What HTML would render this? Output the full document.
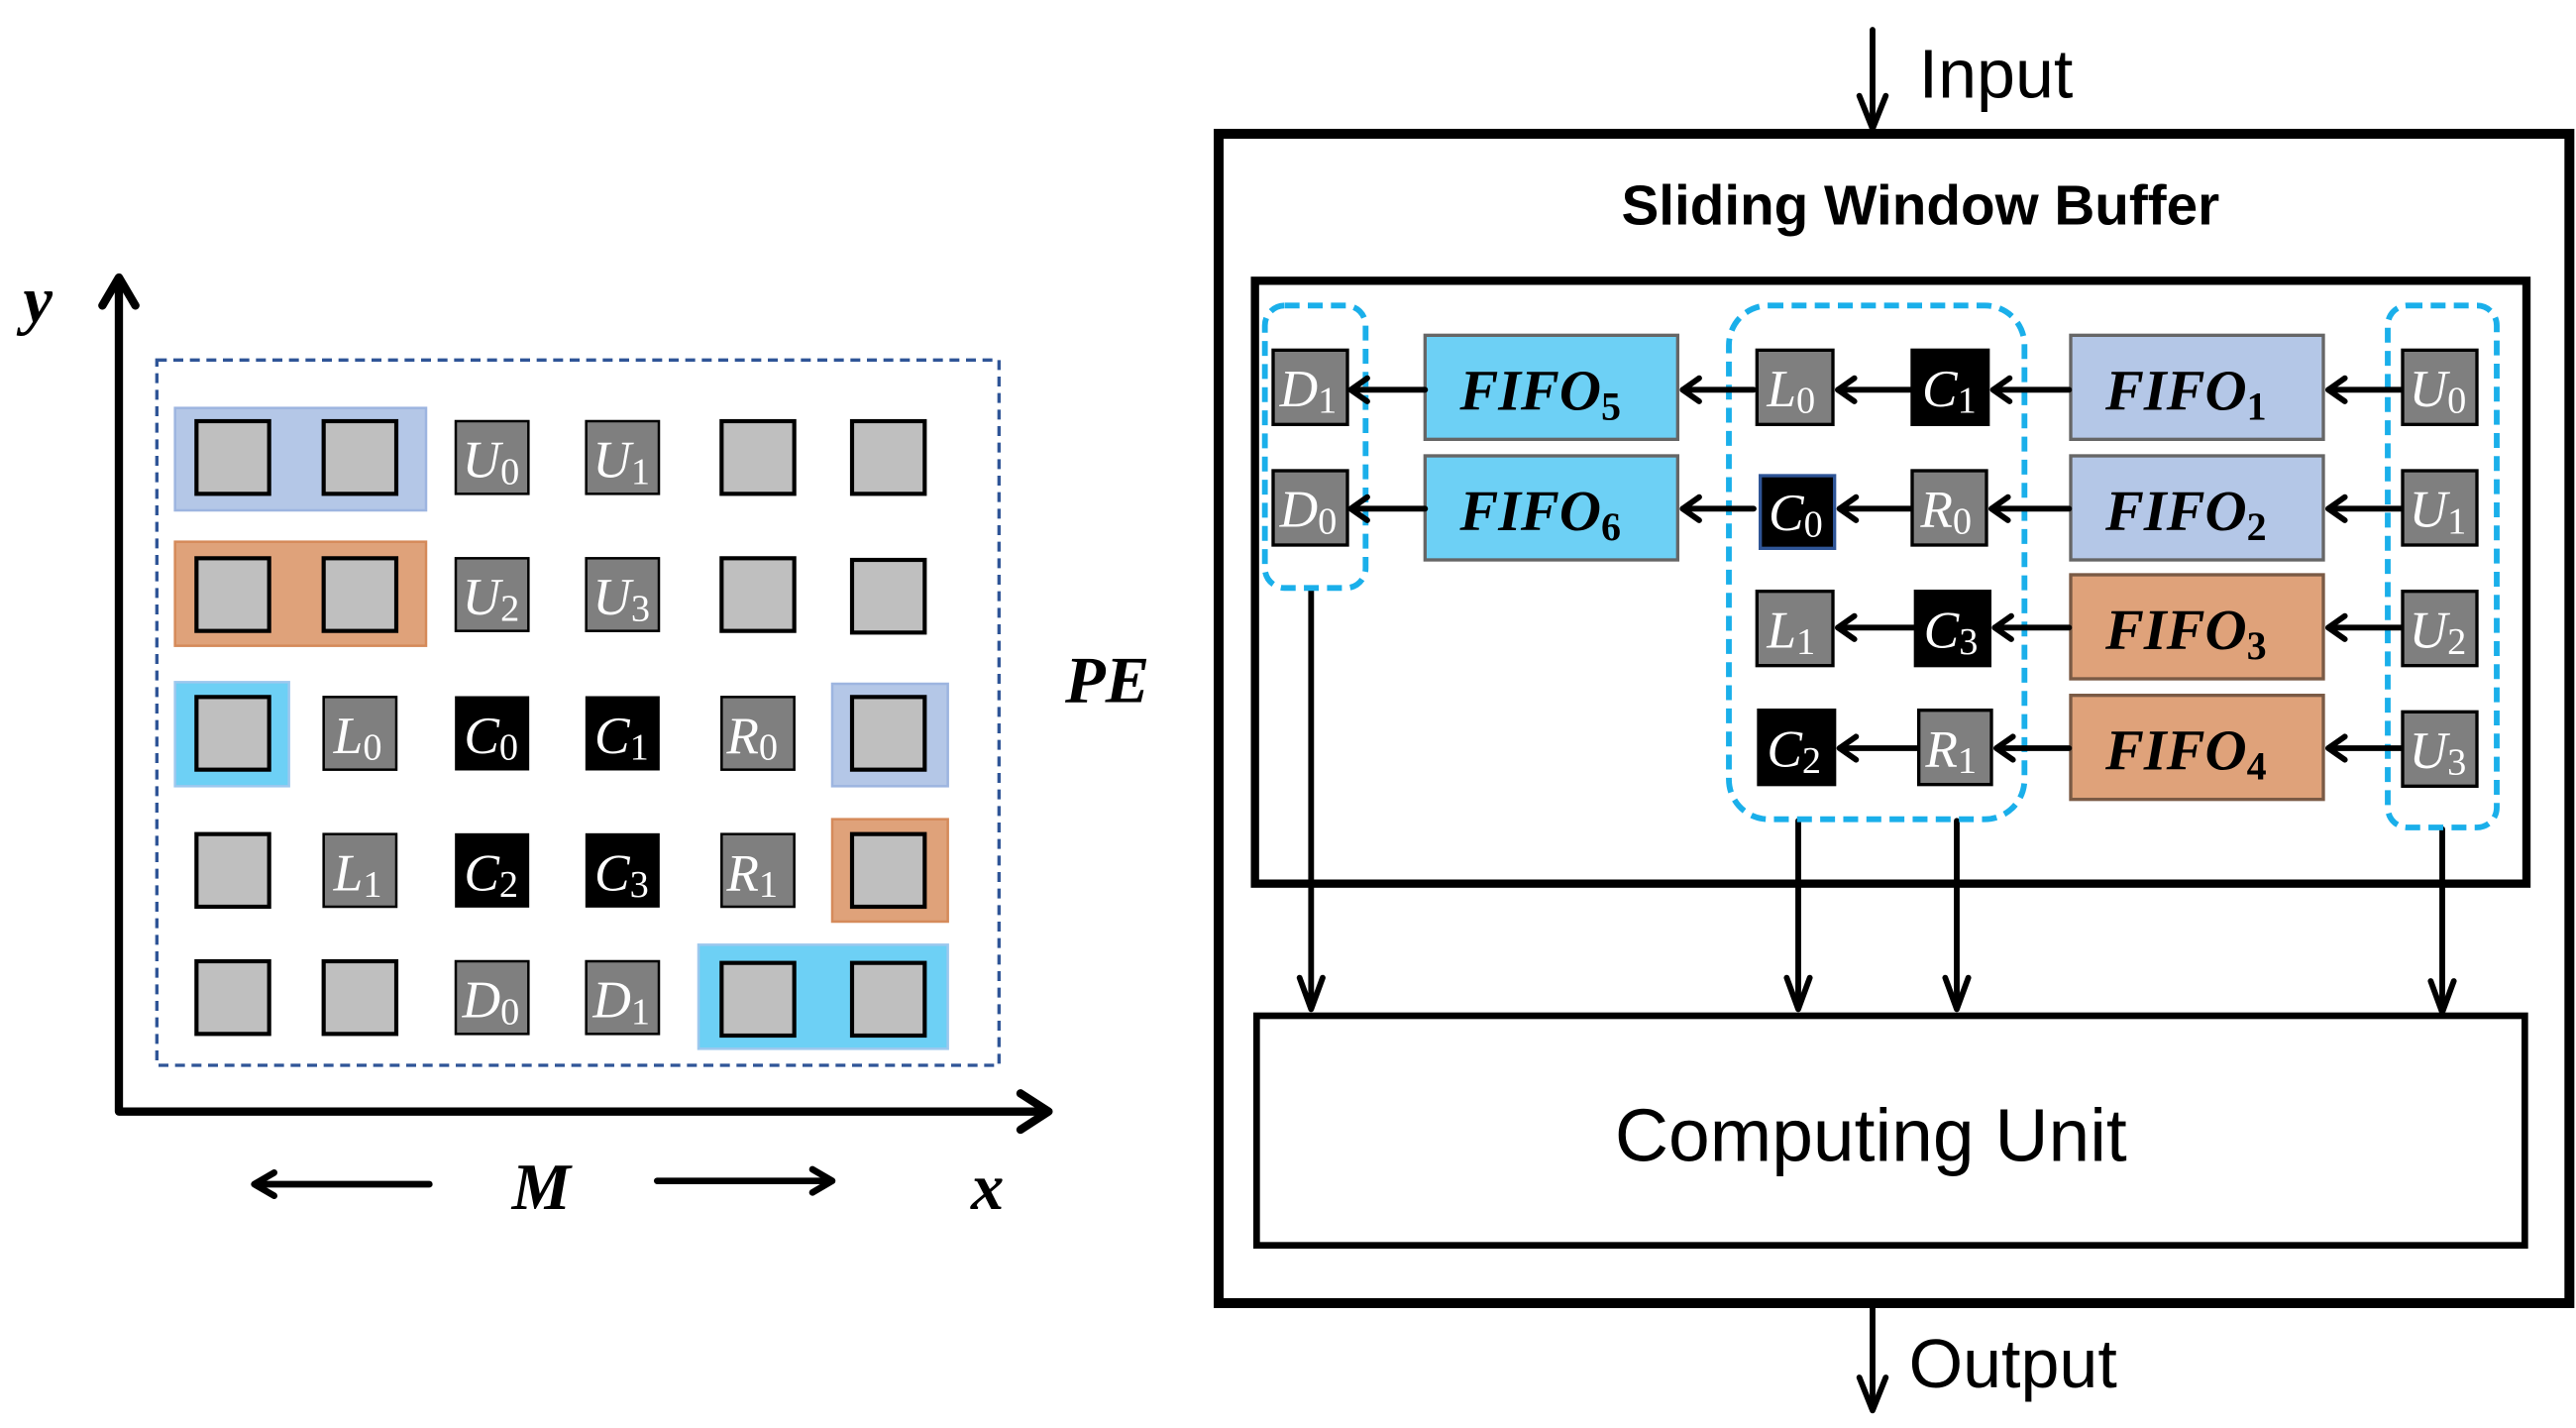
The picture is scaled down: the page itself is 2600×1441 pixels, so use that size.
<!DOCTYPE html>
<html><head><meta charset="utf-8"><style>
html,body{margin:0;padding:0;background:#fff}
svg{display:block}
.lb{font-family:"Liberation Serif",serif;font-style:italic;fill:#fff;font-size:32px}
.lb tspan.s{font-style:normal;font-size:23px}
.ff{font-family:"Liberation Serif",serif;font-style:italic;font-weight:bold;fill:#000;font-size:35px}
.ff tspan.s{font-style:normal;font-size:24px;font-weight:bold}
.sans{font-family:"Liberation Sans",sans-serif;fill:#000}
.ax{font-family:"Liberation Serif",serif;font-style:italic;font-weight:bold;font-size:40px}
</style></head><body>
<svg width="2600" height="1441" viewBox="0 0 1560 864.6" xmlns="http://www.w3.org/2000/svg">
<g stroke="#000" stroke-width="5" fill="none" stroke-linecap="round" stroke-linejoin="round">
<polyline points="72,170 72,673 633,673"/>
<polyline points="62,185 72,168 82,185"/>
<polyline points="618,662 635,673 618,684"/>
<line x1="155" y1="717" x2="260" y2="717" stroke-width="4"/>
<polyline points="166,710 154,717 166,724" stroke-width="4"/>
<line x1="398" y1="715" x2="503" y2="715" stroke-width="4"/>
<polyline points="492,708 504,715 492,722" stroke-width="4"/>
</g>
<text class="ax" x="14" y="195">y</text>
<text class="ax" x="310" y="732">M</text>
<text class="ax" x="588" y="732">x</text>
<text class="ax" x="645" y="425">PE</text>
<rect x="95" y="218" width="510" height="427" fill="none" stroke="#2F5597" stroke-width="2" stroke-dasharray="6,4"/>
<g stroke-width="1.5">
<rect x="106" y="247" width="152" height="62" fill="#B4C7E7" stroke="#9DB5E0"/>
<rect x="106" y="328" width="152" height="63" fill="#DFA27A" stroke="#D58A5A"/>
<rect x="106" y="413" width="69" height="63" fill="#6DD0F5" stroke="#9DC8EE"/>
<rect x="504" y="414" width="70" height="62" fill="#B4C7E7" stroke="#9DB5E0"/>
<rect x="504" y="496" width="70" height="62" fill="#DFA27A" stroke="#D58A5A"/>
<rect x="423" y="572" width="151" height="63" fill="#6DD0F5" stroke="#9DC8EE"/>
</g>
<g stroke="#000" stroke-width="2.5">
<rect x="119" y="255" width="44" height="44" fill="#BFBFBF"/>
<rect x="196" y="255" width="44" height="44" fill="#BFBFBF"/>
<rect x="276" y="255" width="44" height="44" fill="#7F7F7F" stroke-width="1.5"/>
<rect x="355" y="255" width="44" height="44" fill="#7F7F7F" stroke-width="1.5"/>
<rect x="437" y="255" width="44" height="44" fill="#BFBFBF"/>
<rect x="516" y="255" width="44" height="44" fill="#BFBFBF"/>
<rect x="119" y="338" width="44" height="44" fill="#BFBFBF"/>
<rect x="196" y="338" width="44" height="44" fill="#BFBFBF"/>
<rect x="276" y="338" width="44" height="44" fill="#7F7F7F" stroke-width="1.5"/>
<rect x="355" y="338" width="44" height="44" fill="#7F7F7F" stroke-width="1.5"/>
<rect x="437" y="338" width="44" height="44" fill="#BFBFBF"/>
<rect x="516" y="339" width="44" height="44" fill="#BFBFBF"/>
<rect x="119" y="422" width="44" height="44" fill="#BFBFBF"/>
<rect x="196" y="422" width="44" height="44" fill="#7F7F7F" stroke-width="1.5"/>
<rect x="276" y="422" width="44" height="44" fill="#000" stroke-width="1"/>
<rect x="355" y="422" width="44" height="44" fill="#000" stroke-width="1"/>
<rect x="437" y="422" width="44" height="44" fill="#7F7F7F" stroke-width="1.5"/>
<rect x="516" y="422" width="44" height="44" fill="#BFBFBF"/>
<rect x="119" y="505" width="44" height="44" fill="#BFBFBF"/>
<rect x="196" y="505" width="44" height="44" fill="#7F7F7F" stroke-width="1.5"/>
<rect x="276" y="505" width="44" height="44" fill="#000" stroke-width="1"/>
<rect x="355" y="505" width="44" height="44" fill="#000" stroke-width="1"/>
<rect x="437" y="505" width="44" height="44" fill="#7F7F7F" stroke-width="1.5"/>
<rect x="516" y="505" width="44" height="44" fill="#BFBFBF"/>
<rect x="119" y="582" width="44" height="44" fill="#BFBFBF"/>
<rect x="196" y="582" width="44" height="44" fill="#BFBFBF"/>
<rect x="276" y="582" width="44" height="44" fill="#7F7F7F" stroke-width="1.5"/>
<rect x="355" y="582" width="44" height="44" fill="#7F7F7F" stroke-width="1.5"/>
<rect x="437" y="583" width="44" height="44" fill="#BFBFBF"/>
<rect x="516" y="583" width="44" height="44" fill="#BFBFBF"/>
</g>
<g class="lb">
<text x="280" y="289">U<tspan class="s" dy="4">0</tspan></text>
<text x="359" y="289">U<tspan class="s" dy="4">1</tspan></text>
<text x="280" y="372">U<tspan class="s" dy="4">2</tspan></text>
<text x="359" y="372">U<tspan class="s" dy="4">3</tspan></text>
<text x="202" y="456">L<tspan class="s" dy="4">0</tspan></text>
<text x="281" y="456">C<tspan class="s" dy="4">0</tspan></text>
<text x="360" y="456">C<tspan class="s" dy="4">1</tspan></text>
<text x="440" y="456">R<tspan class="s" dy="4">0</tspan></text>
<text x="202" y="539">L<tspan class="s" dy="4">1</tspan></text>
<text x="281" y="539">C<tspan class="s" dy="4">2</tspan></text>
<text x="360" y="539">C<tspan class="s" dy="4">3</tspan></text>
<text x="440" y="539">R<tspan class="s" dy="4">1</tspan></text>
<text x="280" y="616">D<tspan class="s" dy="4">0</tspan></text>
<text x="359" y="616">D<tspan class="s" dy="4">1</tspan></text>
</g>

<g stroke="#000" fill="none">
<rect x="738" y="81" width="818" height="708" stroke-width="6"/>
<rect x="760" y="170" width="770" height="365" stroke-width="5"/>
<rect x="761" y="615" width="768" height="139" stroke-width="4"/>
</g>
<g stroke="#000" stroke-width="3.5" fill="none" stroke-linecap="round" stroke-linejoin="round">
<line x1="1134" y1="18" x2="1134" y2="76"/>
<polyline points="1126,58 1134,78 1142,58"/>
<line x1="1134" y1="792" x2="1134" y2="852"/>
<polyline points="1126,834 1134,854 1142,834"/>
<line x1="794" y1="357" x2="794" y2="610"/><polyline points="787,592 794,611 801,592"/>
<line x1="1089" y1="497" x2="1089" y2="610"/><polyline points="1082,592 1089,611 1096,592"/>
<line x1="1185" y1="497" x2="1185" y2="610"/><polyline points="1178,592 1185,611 1192,592"/>
<line x1="1479" y1="502" x2="1479" y2="612"/><polyline points="1472,594 1479,613 1486,594"/>
</g>
<text class="sans" x="1162" y="59" font-size="42">Input</text>
<text class="sans" x="1156" y="840" font-size="42">Output</text>
<text class="sans" x="1163" y="136" font-size="34" font-weight="600" text-anchor="middle">Sliding Window Buffer</text>
<text class="sans" x="1133" y="703" font-size="45" text-anchor="middle">Computing Unit</text>

<g fill="none" stroke="#1AAFEA" stroke-width="3.5" stroke-dasharray="9,5">
<rect x="766" y="185" width="61" height="171" rx="12"/>
<rect x="1047" y="185" width="179" height="311" rx="24"/>
<rect x="1446" y="185" width="66" height="316" rx="12"/>
</g>
<g stroke="#666" stroke-width="2">
<rect x="863" y="203" width="153" height="63" fill="#6DD0F5"/>
<rect x="863" y="276" width="153" height="63" fill="#6DD0F5"/>
<rect x="1254" y="203" width="153" height="63" fill="#B4C7E7"/>
<rect x="1254" y="276" width="153" height="63" fill="#B4C7E7"/>
<rect x="1254" y="348" width="153" height="63" fill="#DFA27A" stroke="#7a5a45"/>
<rect x="1254" y="421" width="153" height="63" fill="#DFA27A" stroke="#7a5a45"/>
</g>
<g class="ff">
<text x="884" y="248">FIFO<tspan class="s" dy="6">5</tspan></text>
<text x="884" y="321">FIFO<tspan class="s" dy="6">6</tspan></text>
<text x="1275" y="248">FIFO<tspan class="s" dy="6">1</tspan></text>
<text x="1275" y="321">FIFO<tspan class="s" dy="6">2</tspan></text>
<text x="1275" y="393">FIFO<tspan class="s" dy="6">3</tspan></text>
<text x="1275" y="466">FIFO<tspan class="s" dy="6">4</tspan></text>
</g>
<g stroke="#000" stroke-width="3.5" fill="none" stroke-linecap="round" stroke-linejoin="round">
<line x1="863" y1="236" x2="819" y2="236"/><polyline points="828,229 818,236 828,243"/>
<line x1="863" y1="308" x2="819" y2="308"/><polyline points="828,301 818,308 828,315"/>
<line x1="1062" y1="236" x2="1019" y2="236"/><polyline points="1029,229 1019,236 1029,243"/>
<line x1="1062" y1="308" x2="1019" y2="308"/><polyline points="1029,301 1019,308 1029,315"/>
<line x1="1157" y1="236" x2="1113" y2="236"/><polyline points="1123,229 1113,236 1123,243"/>
<line x1="1157" y1="308" x2="1114" y2="308"/><polyline points="1124,301 1114,308 1124,315"/>
<line x1="1159" y1="380" x2="1113" y2="380"/><polyline points="1123,373 1113,380 1123,387"/>
<line x1="1161" y1="453" x2="1114" y2="453"/><polyline points="1124,446 1114,453 1124,460"/>
<line x1="1253" y1="236" x2="1207" y2="236"/><polyline points="1217,229 1207,236 1217,243"/>
<line x1="1253" y1="308" x2="1206" y2="308"/><polyline points="1216,301 1206,308 1216,315"/>
<line x1="1253" y1="380" x2="1208" y2="380"/><polyline points="1218,373 1208,380 1218,387"/>
<line x1="1253" y1="453" x2="1209" y2="453"/><polyline points="1219,446 1209,453 1219,460"/>
<line x1="1454" y1="236" x2="1410" y2="236"/><polyline points="1420,229 1410,236 1420,243"/>
<line x1="1454" y1="308" x2="1410" y2="308"/><polyline points="1420,301 1410,308 1420,315"/>
<line x1="1454" y1="380" x2="1410" y2="380"/><polyline points="1420,373 1410,380 1420,387"/>
<line x1="1454" y1="453" x2="1410" y2="453"/><polyline points="1420,446 1410,453 1420,460"/>
</g>
<g stroke="#000" stroke-width="2">
<rect x="771" y="212" width="45" height="45" fill="#7F7F7F"/>
<rect x="771" y="285" width="45" height="45" fill="#7F7F7F"/>
<rect x="1064" y="212" width="46" height="45" fill="#7F7F7F"/>
<rect x="1158" y="212" width="46" height="45" fill="#000"/>
<rect x="1066" y="288" width="45" height="44" fill="#000" stroke="#2F5597"/>
<rect x="1158" y="285" width="45" height="45" fill="#7F7F7F"/>
<rect x="1064" y="358" width="46" height="45" fill="#7F7F7F"/>
<rect x="1160" y="358" width="45" height="45" fill="#000"/>
<rect x="1065" y="430" width="46" height="45" fill="#000"/>
<rect x="1162" y="430" width="44" height="45" fill="#7F7F7F"/>
<rect x="1455" y="212" width="45" height="45" fill="#7F7F7F"/>
<rect x="1455" y="285" width="45" height="45" fill="#7F7F7F"/>
<rect x="1455" y="358" width="45" height="45" fill="#7F7F7F"/>
<rect x="1455" y="431" width="45" height="45" fill="#7F7F7F"/>
</g>
<g class="lb">
<text x="775" y="246">D<tspan class="s" dy="4">1</tspan></text>
<text x="775" y="319">D<tspan class="s" dy="4">0</tspan></text>
<text x="1070" y="246">L<tspan class="s" dy="4">0</tspan></text>
<text x="1164" y="246">C<tspan class="s" dy="4">1</tspan></text>
<text x="1071" y="321">C<tspan class="s" dy="4">0</tspan></text>
<text x="1163" y="319">R<tspan class="s" dy="4">0</tspan></text>
<text x="1070" y="392">L<tspan class="s" dy="4">1</tspan></text>
<text x="1165" y="392">C<tspan class="s" dy="4">3</tspan></text>
<text x="1070" y="464">C<tspan class="s" dy="4">2</tspan></text>
<text x="1166" y="464">R<tspan class="s" dy="4">1</tspan></text>
<text x="1459" y="246">U<tspan class="s" dy="4">0</tspan></text>
<text x="1459" y="319">U<tspan class="s" dy="4">1</tspan></text>
<text x="1459" y="392">U<tspan class="s" dy="4">2</tspan></text>
<text x="1459" y="465">U<tspan class="s" dy="4">3</tspan></text>
</g>
</svg>
</body></html>
